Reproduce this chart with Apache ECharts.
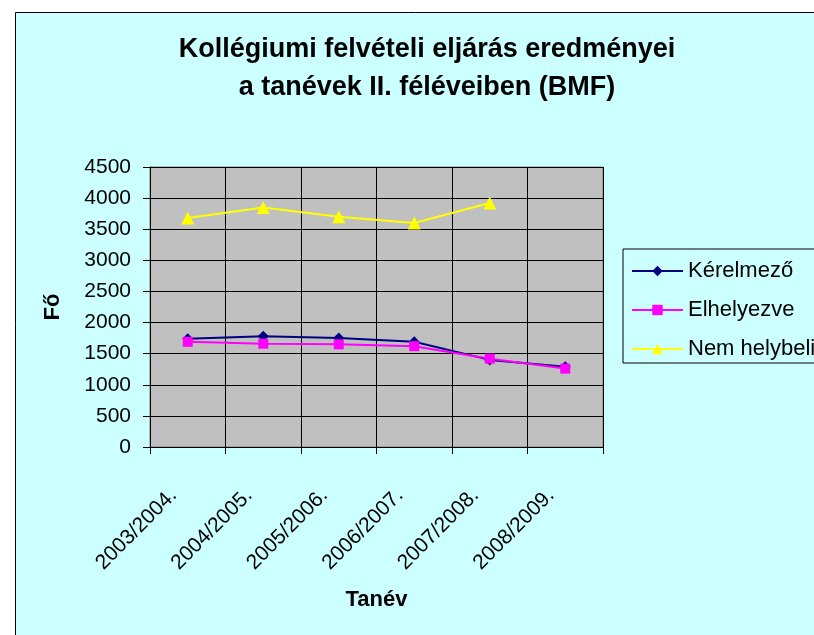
<!DOCTYPE html>
<html>
<head>
<meta charset="utf-8">
<script src="https://cdn.jsdelivr.net/npm/echarts@6/dist/echarts.min.js"></script>
<style>
  html, body { margin: 0; padding: 0; background: #fff; }
  #main { width: 814px; height: 635px; }
</style>
</head>
<body>
<div id="main"></div>
<script>
'use strict';
// tanévek
var tanevek = ['2003/2004.', '2004/2005.', '2005/2006.', '2006/2007.', '2007/2008.', '2008/2009.'];
// sorozatok
var kerelmezo = [1740, 1780, 1750, 1690, 1400, 1290];
var elhelyezve = [1690, 1660, 1650, 1620, 1420, 1260];
var nemHelybeli = [3680, 3850, 3700, 3600, 3920, null];
var yTicks = [0, 4500, 500];

var font = 'Liberation Sans, Arial, sans-serif';
var chart = echarts.init(document.getElementById('main'));

var option = {
  backgroundColor: '#fff',
  graphic: [{
    type: 'rect',
    shape: { x: 15.5, y: 12.5, width: 830, height: 660 },
    style: { fill: '#CCFFFF', stroke: '#000', lineWidth: 1 },
    z: -10
  }],
  title: {
    text: 'Kollégiumi felvételi eljárás eredményei\na tanévek II. féléveiben (BMF)',
    left: 422,
    top: 26,
    textAlign: 'center',
    textStyle: { fontFamily: font, fontSize: 27, fontWeight: 'bold', color: '#000', lineHeight: 38 }
  },
  legend: {
    orient: 'vertical',
    left: 623,
    top: 249,
    padding: [11, 40, 3, 8],
    itemGap: 17,
    itemWidth: 51,
    itemHeight: 13,
    borderColor: '#000',
    borderWidth: 1,
    textStyle: { fontFamily: font, fontSize: 22, color: '#000', lineHeight: 20 },
    data: ['Kérelmező', 'Elhelyezve', 'Nem helybeliek']
  },
  grid: {
    left: 150, top: 167, width: 453, height: 280,
    show: true, backgroundColor: '#C0C0C0', borderColor: '#808080', borderWidth: 1
  },
  xAxis: {
    type: 'category',
    data: tanevek,
    boundaryGap: true,
    name: 'Tanév',
    nameLocation: 'middle',
    nameGap: 142,
    nameTextStyle: { fontFamily: font, fontSize: 22, fontWeight: 'bold', color: '#000' },
    axisLine: { lineStyle: { color: '#000', width: 1 } },
    axisTick: { show: true, length: 7, lineStyle: { color: '#000' } },
    splitLine: { show: true, lineStyle: { color: '#000', width: 1 } },
    axisLabel: { rotate: 45, margin: 31, padding: [0, 20, 0, 0], fontFamily: font, fontSize: 21, color: '#000', interval: 0 }
  },
  yAxis: {
    type: 'value',
    min: yTicks[0], max: yTicks[1], interval: yTicks[2],
    name: 'Fő',
    nameLocation: 'middle',
    nameGap: 86,
    nameTextStyle: { fontFamily: font, fontSize: 22, fontWeight: 'bold', color: '#000' },
    axisLine: { show: true, lineStyle: { color: '#000', width: 1 } },
    axisTick: { show: true, length: 7, lineStyle: { color: '#000' } },
    splitLine: { show: true, lineStyle: { color: '#000', width: 1 } },
    axisLabel: {
      margin: 19, fontFamily: font, fontSize: 21, color: '#000',
      formatter: function (v) { return String(v); }
    }
  },
  series: [
    {
      name: 'Kérelmező', type: 'line', data: kerelmezo,
      symbol: 'diamond', symbolSize: 11,
      itemStyle: { color: '#000080' },
      lineStyle: { color: '#000080', width: 2 }
    },
    {
      name: 'Elhelyezve', type: 'line', data: elhelyezve,
      symbol: 'rect', symbolSize: 10,
      itemStyle: { color: '#FF00FF' },
      lineStyle: { color: '#FF00FF', width: 2 }
    },
    {
      name: 'Nem helybeliek', type: 'line', data: nemHelybeli,
      symbol: 'triangle', symbolSize: 13,
      itemStyle: { color: '#FFFF00' },
      lineStyle: { color: '#FFFF00', width: 2 }
    }
  ],
  animation: false
};
chart.setOption(option);
</script>
</body>
</html>
